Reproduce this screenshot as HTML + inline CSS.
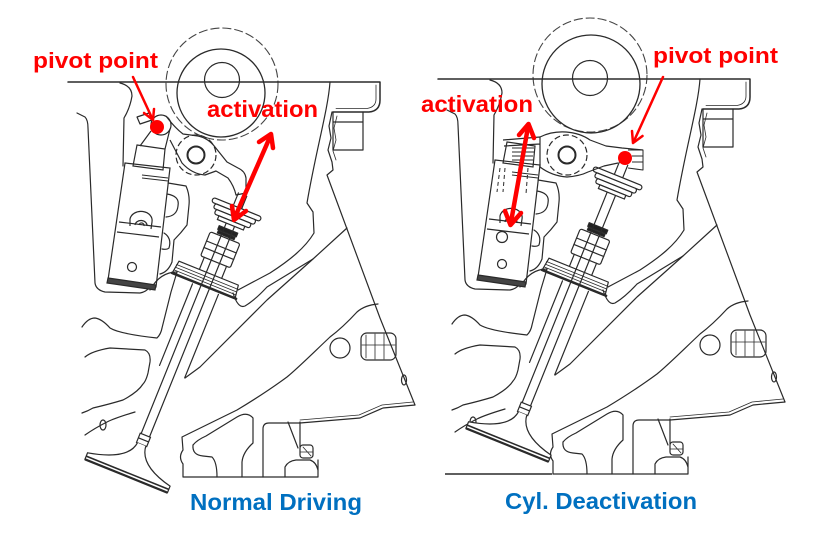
<!DOCTYPE html>
<html><head><meta charset="utf-8"><style>
html,body{margin:0;padding:0;background:#fff;}
svg{display:block;}
</style></head><body>
<svg width="825" height="548" viewBox="0 0 825 548" xmlns="http://www.w3.org/2000/svg">
<rect width="825" height="548" fill="#fff"/>
<defs>
<g id="cast" fill="none" stroke="#2a2a2a" stroke-width="1.2" stroke-linejoin="round" stroke-linecap="round">
 <path d="M68,82 H380 V100 Q380,111 369,112 H333" stroke-width="1.5"/>
 <path d="M376,85 V99 Q376,107 367,108.5 H336" stroke-width="0.8"/>
 <path d="M333,112 V150 H363 V112 M333,122 H363"/>
 <path d="M332,112 L329,126 L331,138 L328,150 L332,162 L333,170 L327,175 L380,318 L415,405"/>
 <path d="M337,116 L334,128 L336,140 L333,151 L336,160" stroke-width="0.8"/>
 <path d="M330,82 C328,110 316,150 307,203 L313,212 L314,233 C305,248 290,260 270,273 L238,290"/>
 <path d="M233,293 Q238,309 245,306 Q255,300 267,287 L313,259"/>
 <path d="M347,228 L313,259 L267,300 L200,367 L185,378"/>
 <path d="M378,304 Q365,305 357,312 C345,325 338,331 330,337 C312,354 298,368 287,377 C268,391 252,401 237,410 L182,437 L183,450 Q178,457 183,464 L183,477 H318 V460"/>
 <path d="M415,405 L383,408 L360,418 L300,423 L269,423 Q263,423 263,429 V477"/>
 <path d="M413,402 L382,405 L359,415 L300,420" stroke-width="0.8"/>
 <circle cx="340" cy="348" r="10"/>
 <rect x="361" y="333" width="35" height="27" rx="6"/>
 <path d="M366,335 V358 M375,334 V359 M384,334 V359 M362,345 H395" stroke-width="0.8"/>
 <ellipse cx="404" cy="380" rx="2.5" ry="5"/>
 <path d="M193,445 Q197,440 206,436 L237,417 Q247,411 253,418 V443 Q243,452 242,462 V477"/>
 <path d="M193,445 Q192,455 203,456 L212,457 Q217,462 217,477"/>
 <path d="M288,422 L298,448 M300,422 V447 M285,477 V467 Q288,461 296,460 L310,460 Q316,462 318,470"/>
 <rect x="300" y="445" width="13" height="13" rx="3"/>
 <path d="M303,447 L311,456 M300,452 H313" stroke-width="0.8"/>
 <path d="M77,113 L85,117 Q88,120 88,128 L95,283 Q96,290 105,292 L140,293 Q146,292 150,287"/>
 <path d="M120,83 Q132,86 132,96 Q130,108 124,118 L123,166"/>
 <path d="M82,327 Q88,318 95,318 Q102,319 110,328 Q120,334 157,338 Q161,334 162,328 L171,292 L177,272"/>
 <path d="M85,357 Q92,351 110,348 L145,350 Q151,353 150,362 L148,373 Q146,381 143,384 Q138,392 123,400 Q110,404 93,408 Q88,411 82,413"/>
 <path d="M85,435 Q95,428 107,422 Q115,418 135,412"/>
 <ellipse cx="103" cy="425" rx="3" ry="5"/>
 <path d="M168,183 L186,186 Q190,195 189,205 L187,225 Q181,233 174,240 L172,262 Q168,272 160,274"/>
 <path d="M167,194 Q180,196 178,206 Q177,216 166,217"/>
 <path d="M164,233 Q172,238 169,248 Q167,250 162,249"/>
 <path d="M150,290 Q160,272 177,272"/>
 <g transform="translate(242,196) rotate(22)">
  <rect x="-10" y="36" width="20" height="4" fill="#222"/>
  <rect x="-9" y="41" width="18" height="2.5" fill="#222"/>
  <rect x="-16" y="45" width="32" height="26" rx="2"/>
  <path d="M-16,55 H16 M-16,62 H16 M-12,71 V84 M12,71 V84"/>
  <path d="M-34,84 H30 L32,98 H-36 Z"/>
  <path d="M-35,88 H31 M-35,91 H31 M-35,94 H31" stroke-width="0.8"/>
  <path d="M-36,97.5 H33" stroke-width="2.5"/>
  <path d="M-13,100 V188 M15,100 V190"/>
 </g>
</g>
<g id="valve" fill="none" stroke="#2a2a2a" stroke-width="1.2">
 <g transform="translate(242,196) rotate(22)">
  <path d="M-4.5,-2 V258 M4.5,-2 V258"/>
  <rect x="-26" y="12" width="52" height="5" rx="2.5" fill="#fff"/>
  <rect x="-22" y="17" width="44" height="5" rx="2" fill="#fff"/>
  <rect x="-19" y="22" width="38" height="5" rx="2" fill="#fff"/>
  <rect x="-14" y="27" width="28" height="4" fill="#fff"/>
  <path d="M-5.5,258 H5.5 V268 H-5.5 Z M-5.5,263 H5.5"/>
  <path d="M-4.5,268 C-6,284 -28,292 -47,296 L-47,303 L42,303 L42,296 C24,292 6,284 4.5,268" fill="#fff"/>
  <path d="M-47,299.5 H42" stroke-width="1.6"/>
  <path d="M-47,303 H42" stroke-width="2.2"/>
 </g>
</g>
<g id="lifter" fill="none" stroke="#2a2a2a" stroke-width="1.2">
 <path d="M137,145 L165,149 L163,170 L133,166 Z"/>
 <path d="M125,163 L170,168 L156,287 L108,280 Z"/>
 <path d="M108,278 L156,285 L155,290 L107,283 Z" fill="#444"/>
 <path d="M119,222 L161,227 M117,232 L159,237"/>
 <path d="M142,175 L168,178 M142,178 L168,181" stroke-width="0.9"/>
 <path d="M130,226 L130,219 A11,9 0 0 1 152,222 L151,229"/>
 <path d="M135,225 A6,5 0 0 1 147,226 M139,225 A2.5,2.5 0 0 1 144,226"/>
 <circle cx="132" cy="267" r="4.5"/>
</g>
</defs>

<!-- LEFT PANEL -->
<circle cx="222" cy="84" r="56" fill="none" stroke="#444" stroke-width="1.1" stroke-dasharray="9 3"/>
<circle cx="221" cy="93" r="44" fill="none" stroke="#2a2a2a" stroke-width="1.3"/>
<circle cx="222" cy="80" r="17.5" fill="none" stroke="#2a2a2a" stroke-width="1.2"/>
<use href="#cast"/>
<use href="#lifter"/>
<use href="#valve"/>
<g fill="none" stroke="#2a2a2a" stroke-width="1.2" stroke-linejoin="round">
 <path d="M166,116 Q175,128 183,134 L198,136 Q208,138 215,147 L227,162 L238,168 Q245,171 246,178 L246,193 L236,195 Q234,186 228,178 L216,171 L205,175 Q192,174 182,163 L170,140"/>
 <circle cx="196" cy="155" r="20" stroke-dasharray="6 3"/>
 <circle cx="196" cy="155" r="8.5" stroke-width="2"/>
 <circle cx="161" cy="125" r="10"/>
 <path d="M151,131 L140,146 M170,129 L165,149"/>
 <path d="M137,117 L149,113 L152,120 L140,124 Z"/>
</g>

<!-- RIGHT PANEL -->
<circle cx="590" cy="75" r="57" fill="none" stroke="#444" stroke-width="1.1" stroke-dasharray="9 3"/>
<circle cx="591" cy="84" r="49" fill="none" stroke="#2a2a2a" stroke-width="1.3"/>
<circle cx="590" cy="78" r="17.5" fill="none" stroke="#2a2a2a" stroke-width="1.2"/>
<use href="#cast" transform="translate(370,-3)"/>
<use href="#lifter" transform="translate(370,-3)"/>
<use href="#valve" transform="translate(381,-31)"/>
<g fill="none" stroke="#2a2a2a" stroke-width="1.2" stroke-linejoin="round">
 <path d="M445,474 H552" stroke-width="1.5"/>
 <path d="M540,137 Q552,131 566,132 Q580,133 590,140 L606,146 L622,148 L643,150"/>
 <path d="M540,167 Q552,176 567,177 Q580,176 588,172 L604,166 L618,163"/>
 <path d="M540,137 V167 M503,140 L540,137 M504,146 L540,144"/>
 <path d="M628,150 L643,150 L643,170 L628,168 M632,156 H643 M632,162 H643" stroke-width="1"/>
 <circle cx="567" cy="155" r="20" stroke-dasharray="6 3"/>
 <circle cx="567" cy="155" r="8.5" stroke-width="2"/>
 <path d="M512,148 H534 M512,152 H534 M512,156 H533 M512,160 H533" stroke-width="1"/>
 <path d="M500,168 L497,192 M505,168 L503,192 M528,168 L526,194" stroke-dasharray="4 3" stroke-width="1"/>
 <circle cx="502" cy="237" r="5.5"/>
</g>

<!-- RED ANNOTATIONS -->
<g fill="none" stroke="#FF0000" stroke-linecap="round" stroke-linejoin="round">
 <path d="M133,77 L152,118" stroke-width="2.5"/>
 <path d="M144,113 L153,120 L154,109" stroke-width="2.5"/>
 <path d="M270,137 L235,217" stroke-width="4.5"/>
 <path d="M259,142 L271,134 L273,148" stroke-width="4.5"/>
 <path d="M246,211 L234,220 L232,206" stroke-width="4.5"/>
 <path d="M663,77 L634,141" stroke-width="2.5"/>
 <path d="M642.5,136 L633,143 L632,131" stroke-width="2.5"/>
 <path d="M528,127 L511,222" stroke-width="4.5"/>
 <path d="M519,135 L528.5,124 L534,138" stroke-width="4.5"/>
 <path d="M521,213 L510.5,225 L505,211" stroke-width="4.5"/>
</g>
<circle cx="157" cy="127" r="7" fill="#FF0000"/>
<circle cx="625" cy="158" r="7" fill="#FF0000"/>

<g font-family="'Liberation Sans', Arial, sans-serif" font-weight="bold">
 <text x="33" y="68" font-size="22" fill="#FF0000" textLength="125" lengthAdjust="spacingAndGlyphs">pivot point</text>
 <text x="207" y="117" font-size="23" fill="#FF0000" textLength="111" lengthAdjust="spacingAndGlyphs">activation</text>
 <text x="653" y="63" font-size="22" fill="#FF0000" textLength="125" lengthAdjust="spacingAndGlyphs">pivot point</text>
 <text x="421" y="112" font-size="23" fill="#FF0000" textLength="112" lengthAdjust="spacingAndGlyphs">activation</text>
 <text x="190" y="510" font-size="23" fill="#0070C0" textLength="172" lengthAdjust="spacingAndGlyphs">Normal Driving</text>
 <text x="505" y="509" font-size="23" fill="#0070C0" textLength="192" lengthAdjust="spacingAndGlyphs">Cyl. Deactivation</text>
</g>
</svg>
</body></html>
